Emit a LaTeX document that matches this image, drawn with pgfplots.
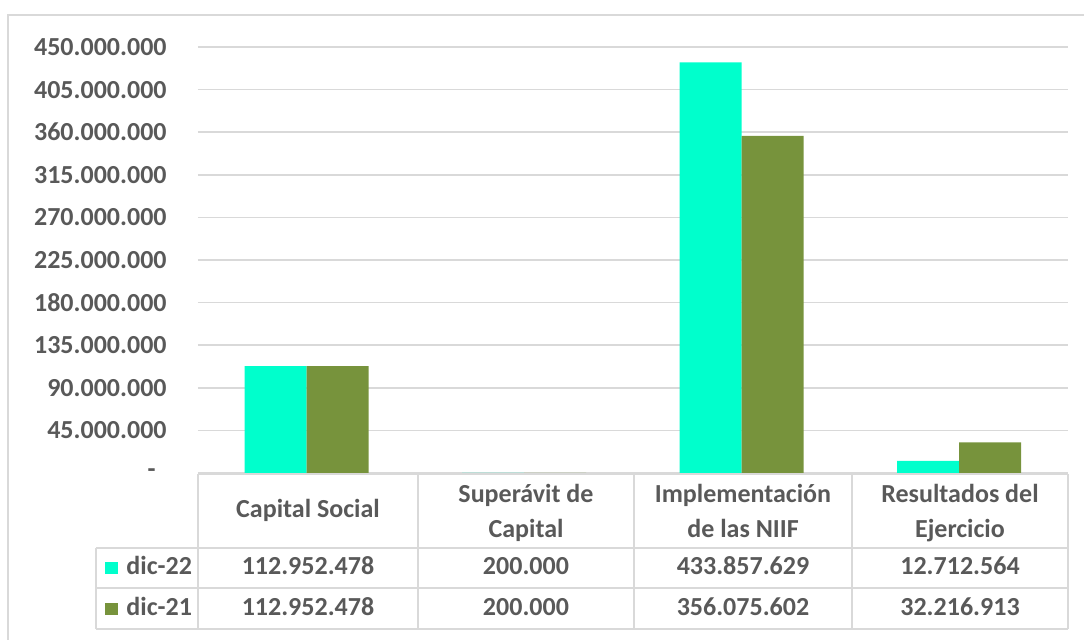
\documentclass[border=0pt]{standalone}
\usepackage{pgfplots}
\pgfplotsset{compat=1.18}
\usepackage{fontspec}
\setmainfont{Carlito}
\definecolor{cyanbar}{HTML}{00FFCC}
\definecolor{greenbar}{HTML}{77933C}
\definecolor{txt}{HTML}{595959}
\definecolor{gridc}{HTML}{D9D9D9}
\begin{document}
\begin{tikzpicture}[x=0.5pt,y=-0.5pt,
  lbl/.style={font=\fontsize{13}{15}\selectfont\bfseries, text=txt, inner sep=0pt, anchor=base}]
\useasboundingbox (0,0) rectangle (1084,640);
% outer chart border
\draw[gridc, line width=1pt] (8,645) -- (8,15) -- (1090,15);
% axis
\begin{axis}[
  at={(99pt,-236.5pt)}, anchor=south west,
  scale only axis, width=435pt, height=213pt,
  xmin=0, xmax=4, ymin=0, ymax=450000000,
  ybar=0pt, bar width=31pt,
  axis line style={draw=none},
  xtick=\empty,
  ytick={0,45000000,90000000,135000000,180000000,225000000,270000000,315000000,360000000,405000000,450000000},
  yticklabels={{-\kern5.5pt\null},45.000.000,90.000.000,135.000.000,180.000.000,225.000.000,270.000.000,315.000.000,360.000.000,405.000.000,450.000.000},
  yticklabel style={font=\fontsize{13}{15}\selectfont\bfseries, text=txt, inner sep=0pt, xshift=-15.5pt},
  major tick length=0pt,
  ymajorgrids, grid style={gridc, line width=0.8pt},
  scaled y ticks=false,
  clip=false,
]
\addplot[fill=cyanbar, draw=none] coordinates {(0.5,112952478) (1.5,200000) (2.5,433857629) (3.5,12712564)};
\addplot[fill=greenbar, draw=none] coordinates {(0.5,112952478) (1.5,200000) (2.5,356075602) (3.5,32216913)};
\end{axis}
% data table lines
\begin{scope}[gridc, line width=0.8pt]
\draw (198,474) -- (1068,474);
\draw (96,548) -- (1068,548);
\draw (96,588) -- (1068,588);
\draw (96,629) -- (1068,629);
\draw (96,548) -- (96,629);
\foreach \x in {198,418,634,852,1068} \draw (\x,474) -- (\x,629);
\end{scope}
% header
\node[lbl] at (308,518) {Capital Social};
\node[lbl] at (526,503) {Superávit de};
\node[lbl] at (526,538) {Capital};
\node[lbl] at (743,503) {Implementación};
\node[lbl] at (743,538) {de las NIIF};
\node[lbl] at (960,503) {Resultados del};
\node[lbl] at (960,538) {Ejercicio};
% rows
\fill[cyanbar] (105,562) rectangle (118,574);
\fill[greenbar] (105,603) rectangle (118,615);
\node[lbl, anchor=base west] at (126,575) {dic-22};
\node[lbl, anchor=base west] at (126,616) {dic-21};
\node[lbl] at (308,575) {112.952.478};
\node[lbl] at (526,575) {200.000};
\node[lbl] at (743,575) {433.857.629};
\node[lbl] at (960,575) {12.712.564};
\node[lbl] at (308,616) {112.952.478};
\node[lbl] at (526,616) {200.000};
\node[lbl] at (743,616) {356.075.602};
\node[lbl] at (960,616) {32.216.913};
\end{tikzpicture}
\end{document}
